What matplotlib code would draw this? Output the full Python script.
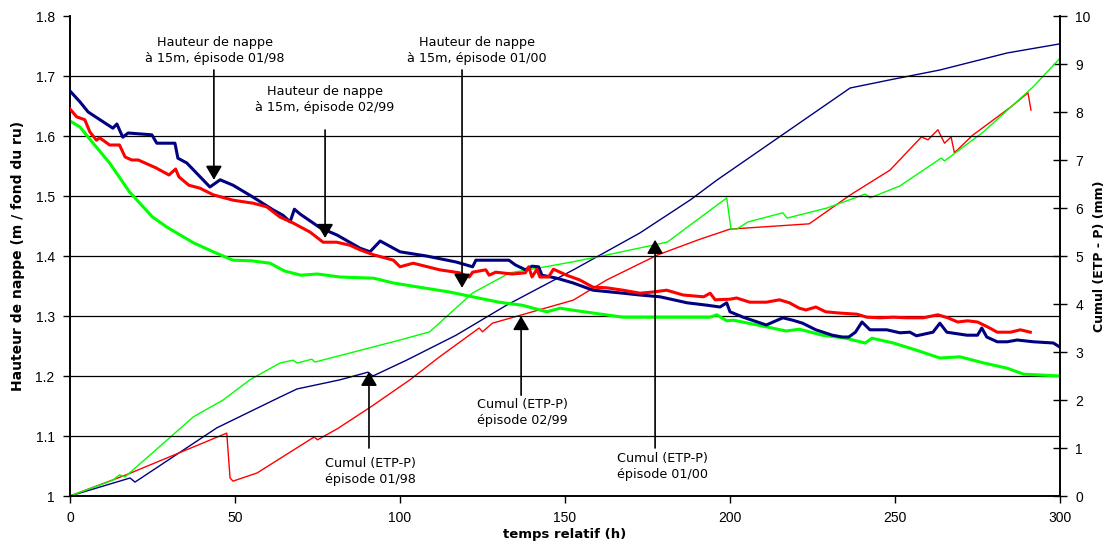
import matplotlib
matplotlib.use("Agg")
import matplotlib.pyplot as plt

# ---- Data -------------------------------------------------------------
# Hauteur de nappe (left axis, m)
t_h98 = [0, 3, 5.5, 13, 14.2, 16, 17.6, 24.8, 26.3, 31.8, 32.7, 35.4, 42.4, 45.5, 49.4, 55.5,
         61.5, 64.5, 66.7, 68, 69.7, 75.8, 80.9, 87.9, 90.9, 94, 100, 108, 117, 122, 123, 133,
         135, 138, 140, 142, 143, 147.5, 152.5, 158.5, 167.6, 172.7, 178.8, 187, 193, 197, 199,
         200, 204, 211, 216, 219, 222, 226, 231, 234, 236, 238, 240, 242.4, 247.5, 251.5, 254.5,
         256.5, 261.5, 263.6, 265.7, 271.8, 275, 276.3, 277.8, 281, 284, 287, 292, 298, 300]
h_98 = [1.675, 1.657, 1.64, 1.613, 1.62, 1.598, 1.605, 1.602, 1.588, 1.588, 1.563, 1.555, 1.515,
        1.527, 1.518, 1.498, 1.477, 1.468, 1.457, 1.478, 1.47, 1.447, 1.435, 1.413, 1.407, 1.425,
        1.407, 1.40, 1.39, 1.382, 1.393, 1.393, 1.385, 1.377, 1.383, 1.382, 1.368, 1.363, 1.355,
        1.343, 1.338, 1.335, 1.332, 1.322, 1.318, 1.315, 1.322, 1.307, 1.298, 1.285, 1.297, 1.293,
        1.288, 1.277, 1.268, 1.265, 1.265, 1.273, 1.29, 1.277, 1.277, 1.272, 1.273, 1.267, 1.273,
        1.288, 1.273, 1.268, 1.268, 1.28, 1.265, 1.257, 1.257, 1.26, 1.257, 1.255, 1.248]

t_h99 = [0, 2, 4.5, 6, 8, 9, 12, 15, 16.7, 18.7, 20.7, 26, 30, 32, 33, 36, 39.4, 43.4, 49.4, 55.5,
         59.6, 63.6, 67.6, 72.7, 76.7, 80.8, 84.8, 88, 92, 98, 100, 104, 112, 118, 121, 122, 126,
         127, 129, 134, 138, 139, 140, 141.5, 142.4, 145, 146.5, 148.5, 150.5, 154.5, 158.5, 162.6,
         167.6, 172.7, 176.7, 180.8, 185.8, 192, 194, 195.5, 200, 202, 206, 211, 215, 218, 221,
         223, 226, 229, 233, 238.5, 241.5, 245.5, 249.5, 253.5, 258.5, 263, 266, 269, 272, 275,
         278, 281, 285, 288, 291]
h_99 = [1.645, 1.632, 1.627, 1.607, 1.593, 1.597, 1.585, 1.585, 1.565, 1.56, 1.56, 1.547, 1.535,
        1.545, 1.532, 1.518, 1.513, 1.502, 1.493, 1.488, 1.482, 1.465, 1.455, 1.44, 1.423, 1.423,
        1.418, 1.41, 1.402, 1.393, 1.382, 1.388, 1.377, 1.372, 1.365, 1.373, 1.377, 1.368, 1.373,
        1.37, 1.372, 1.382, 1.365, 1.378, 1.365, 1.365, 1.378, 1.373, 1.368, 1.36, 1.348, 1.347,
        1.343, 1.338, 1.34, 1.343, 1.335, 1.332, 1.338, 1.327, 1.328, 1.33, 1.323, 1.323, 1.327,
        1.322, 1.313, 1.31, 1.315, 1.307, 1.305, 1.303, 1.298, 1.297, 1.298, 1.297, 1.297, 1.302,
        1.297, 1.29, 1.292, 1.29, 1.282, 1.273, 1.273, 1.277, 1.273]

t_h00 = [0, 3, 7, 12, 18, 25, 29.4, 37.4, 43.4, 49.4, 55, 60.6, 65, 70, 75, 81.8, 92, 98, 107, 115,
         122, 130, 137, 144.5, 148.5, 154.5, 167.6, 178, 188, 194, 196, 199, 201, 211, 217, 221,
         228, 235, 241, 243, 249.5, 256.5, 263.6, 269.7, 276.7, 284, 289, 300]
h_00 = [1.625, 1.615, 1.588, 1.555, 1.507, 1.465, 1.448, 1.422, 1.407, 1.393, 1.392, 1.388, 1.375,
        1.368, 1.37, 1.365, 1.363, 1.355, 1.347, 1.34, 1.332, 1.323, 1.318, 1.307, 1.313, 1.308,
        1.298, 1.298, 1.298, 1.298, 1.302, 1.292, 1.293, 1.282, 1.275, 1.278, 1.268, 1.263, 1.255,
        1.263, 1.255, 1.243, 1.23, 1.232, 1.222, 1.213, 1.203, 1.2]

# Cumul (ETP-P) (right axis, mm)
t_c98 = [0, 18.2, 19.7, 44.5, 63.6, 68.8, 81.8, 90.3, 91.8, 102, 117, 132.4, 152.5, 172.7, 188,
         196, 236.4, 248.5, 263.6, 284, 300]
c_98 = [0, 0.375, 0.29, 1.42, 2.06, 2.23, 2.42, 2.58, 2.5, 2.83, 3.35, 3.98, 4.71, 5.48, 6.17,
        6.58, 8.5, 8.67, 8.875, 9.23, 9.42]

t_c99 = [0, 17, 47.5, 48.5, 49.4, 56.7, 74, 75, 81, 91, 103, 112, 124, 125, 128, 152.5, 162.6,
         178, 190.9, 200, 224, 236.4, 248.5, 258, 260, 263, 265, 267, 268, 273.6, 285, 290.3, 291.2]
c_99 = [0, 0.44, 1.31, 0.375, 0.31, 0.48, 1.23, 1.17, 1.4, 1.85, 2.42, 2.9, 3.5, 3.42, 3.6, 4.08,
        4.5, 5.02, 5.35, 5.56, 5.67, 6.27, 6.79, 7.48, 7.42, 7.63, 7.35, 7.48, 7.15, 7.52, 8.1,
        8.4, 8.04]

t_c00 = [0, 13, 15, 16.7, 27, 37.4, 46.4, 54.5, 63.6, 67.6, 68.8, 73.3, 74.2, 100, 109, 122,
         133.3, 142, 152.5, 162.6, 181, 199, 200.3, 202, 205.5, 216, 217.3, 229.4, 241, 242.4,
         251.5, 264, 265, 276.7, 291.8, 300]
c_00 = [0, 0.33, 0.44, 0.4, 1.02, 1.65, 2.0, 2.42, 2.77, 2.83, 2.77, 2.85, 2.79, 3.25, 3.42, 4.23,
        4.65, 4.75, 4.88, 5.02, 5.29, 6.21, 5.56, 5.56, 5.71, 5.9, 5.79, 6.0, 6.29, 6.21, 6.46,
        7.04, 6.98, 7.58, 8.52, 9.12]

x_ticks = [0, 50, 100, 150, 200, 250, 300]
left_ticks = [1.0, 1.1, 1.2, 1.3, 1.4, 1.5, 1.6, 1.7, 1.8]
left_labels = ["1", "1.1", "1.2", "1.3", "1.4", "1.5", "1.6", "1.7", "1.8"]
right_ticks = list(range(0, 11))

# annotation texts
lbl_h98 = "Hauteur de nappe\nà 15m, épisode 01/98"
lbl_h99 = "Hauteur de nappe\nà 15m, épisode 02/99"
lbl_h00 = "Hauteur de nappe\nà 15m, épisode 01/00"
lbl_c98 = "Cumul (ETP-P)\népisode 01/98"
lbl_c99 = "Cumul (ETP-P)\népisode 02/99"
lbl_c00 = "Cumul (ETP-P)\népisode 01/00"

NAVY = "#000080"
RED = "#ff0000"
GREEN = "#00ff00"

# ---- Figure -----------------------------------------------------------
fig = plt.figure(figsize=(11.15, 5.45), dpi=100)
ax = fig.add_axes([70 / 1115, 1 - 496 / 545, 990 / 1115, 480 / 545])
ax2 = ax.twinx()

ax.set_xlim(0, 300)
ax.set_ylim(1.0, 1.8)
ax2.set_ylim(0, 10)

for y in left_ticks[1:-1]:
    ax.axhline(y, color="black", lw=0.9, zorder=0)

ax.plot(t_h98, h_98, color=NAVY, lw=2.2, zorder=3)
ax.plot(t_h99, h_99, color=RED, lw=2.2, zorder=3)
ax.plot(t_h00, h_00, color=GREEN, lw=2.2, zorder=2)

ax2.plot(t_c98, c_98, color=NAVY, lw=1.0)
ax2.plot(t_c99, c_99, color=RED, lw=1.0)
ax2.plot(t_c00, c_00, color=GREEN, lw=1.0)

tick_font = dict(family="Liberation Sans", size=10)
ax.set_xticks(x_ticks)
ax.set_xticklabels([str(v) for v in x_ticks], **tick_font)
ax.set_yticks(left_ticks)
ax.set_yticklabels(left_labels, **tick_font)
ax2.set_yticks(right_ticks)
ax2.set_yticklabels([str(v) for v in right_ticks], **tick_font)

ax.tick_params(axis="x", direction="out", length=5, width=1, pad=6)
ax.tick_params(axis="y", direction="out", length=5, width=1, pad=6)
ax2.tick_params(axis="y", direction="inout", length=10, width=1, pad=6)

for a in (ax, ax2):
    a.spines["top"].set_visible(False)
    for s in ("left", "right", "bottom"):
        a.spines[s].set_linewidth(1.2)
        a.spines[s].set_color("black")

ax.set_xlabel("temps relatif (h)", family="DejaVu Sans", fontweight="bold", fontsize=9.5)
ax.set_ylabel("Hauteur de nappe (m / fond du ru)", family="DejaVu Sans", fontweight="bold",
              fontsize=10)
ax2.set_ylabel("Cumul (ETP - P) (mm)", family="DejaVu Sans", fontweight="bold", fontsize=9)
ax.xaxis.set_label_coords(0.5, -0.081)
ax.xaxis.label.set_va("center")
ax.yaxis.set_label_coords(-0.0525, 0.5)
ax.yaxis.label.set_va("center")
ax2.yaxis.set_label_coords(1.0404, 0.5)
ax2.yaxis.label.set_va("center")

# ---- Annotations ------------------------------------------------------
arrow = dict(arrowstyle="-|>,head_length=0.6,head_width=0.35", color="black", lw=1.2,
             mutation_scale=14, shrinkA=0, shrinkB=0)
txt_font = dict(family="DejaVu Sans", fontsize=9.2, ha="center", va="center", linespacing=1.3)

# (text, text x, text y, arrow x, tail y, tip y) in data coords of left axis
annots = [
    (lbl_h98, 43.9, 1.742, 43.6, 1.710, 1.527),
    (lbl_h99, 77.3, 1.660, 77.3, 1.610, 1.430),
    (lbl_h00, 123.3, 1.743, 118.8, 1.710, 1.347),
    (lbl_c98, 90.9, 1.041, 90.6, 1.080, 1.207),
    (lbl_c99, 137.0, 1.139, 136.7, 1.168, 1.300),
    (lbl_c00, 179.4, 1.049, 177.3, 1.080, 1.427),
]
for text, tx, ty, axx, y0, y1 in annots:
    ax.text(tx, ty, text, zorder=6, **txt_font)
    ax.annotate("", xy=(axx, y1), xytext=(axx, y0), arrowprops=arrow, zorder=6,
                annotation_clip=False)

# make annotations draw above right-axis lines
ax.set_zorder(ax2.get_zorder() + 1)
ax.patch.set_visible(False)

fig.savefig("out.png", dpi=100)
